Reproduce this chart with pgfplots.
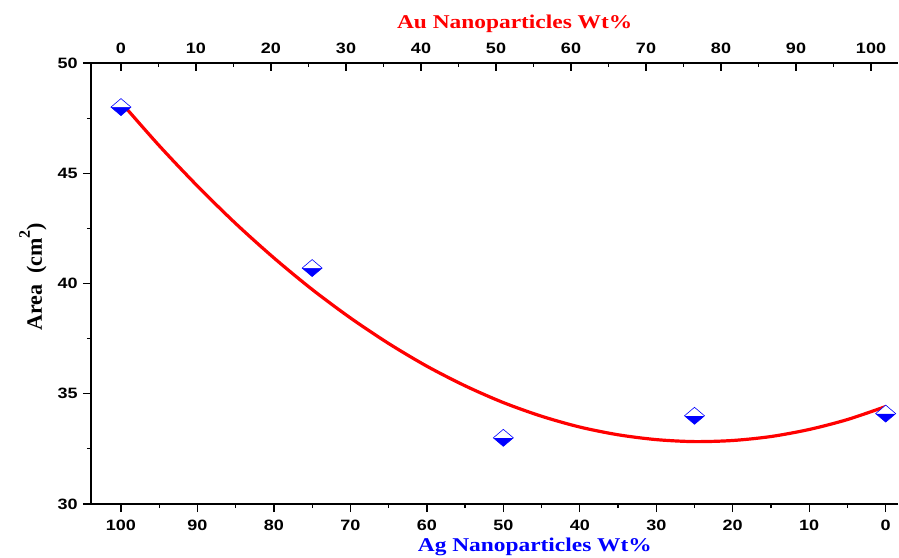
\documentclass[border=0pt]{standalone}
\usepackage{pgfplots}
\pgfplotsset{compat=1.18}
\usepackage{fontspec}
\setmainfont{Liberation Serif}
\newfontfamily\arial{Liberation Sans}

\pgfplotstableread{
x y
100 48.0
75 40.7
50 33.0
25 34.0
0 34.1
}\measured

\pgfplotstableread{
x y
100 48.22
95 46.25
90 44.42
85 42.72
80 41.16
75 39.73
70 38.44
65 37.28
60 36.25
55 35.36
50 34.60
45 33.98
40 33.49
35 33.14
30 32.92
25 32.83
20 32.88
15 33.06
10 33.38
5 33.83
0 34.42
}\fitted

\begin{document}
\begin{tikzpicture}
\pgfplotsset{
  every axis/.append style={
    scale only axis, width=807pt, height=441pt,
    axis line style={line width=1.6pt},
    major tick style={line width=1.4pt, black},
    minor tick style={line width=1.2pt, black},
    tick label style={font=\arial\bfseries\fontsize{15}{17}\selectfont, xscale=1.2},
    /pgf/number format/assume math mode=true,
    ymin=30, ymax=50,
  }
}
\begin{axis}[
    name=ax,
    x dir=reverse,
    xmin=-1.61, xmax=103.92,
    axis x line*=bottom, axis y line*=left,
    axis line style={-},
    xtick={0,10,...,100}, minor x tick num=1,
    ytick={30,35,...,50}, minor y tick num=1,
    tick align=outside,
    major tick length=8pt, minor tick length=4pt,
    xticklabel style={yshift=-4pt},
    yticklabel style={xshift=-1pt},
    xlabel={\textbf{Ag Nanoparticles Wt\%}},
    xlabel style={font=\fontsize{19.5}{22}\selectfont, text=blue, xscale=1.2,
      at={(axis description cs:0.55,0)}, anchor=base, yshift=-47pt},
    ylabel={\textbf{Area\ \ (cm\raisebox{0.55em}{\fontsize{16}{16}\selectfont 2})}},
    ylabel style={font=\fontsize{22}{24}\selectfont, text=black,
      at={(axis description cs:-0.072,0.515)}, anchor=center},
]
\addplot[red, line width=3.2pt, smooth] table[x=x, y=y] {\fitted};
\addplot[only marks, mark=halfdiamond*, mark size=8.5pt,
  mark options={xscale=1.57, draw=blue, fill=blue, mark color=white, line width=0.6pt}]
  table[x=x, y=y] {\measured};
\end{axis}
\begin{axis}[
    xmin=-4, xmax=103.6,
    axis x line*=top, axis y line=none,
    axis line style={-},
    xtick={0,10,...,100}, minor x tick num=1,
    tick align=inside,
    major tick length=8pt, minor tick length=4pt,
    xticklabel style={yshift=6pt},
    xlabel={\textbf{Au Nanoparticles Wt\%}},
    xlabel style={font=\fontsize{19.5}{22}\selectfont, text=red, xscale=1.2,
      at={(axis description cs:0.525,1)}, anchor=base, yshift=34pt},
]
\end{axis}
\pgfresetboundingbox
\path[use as bounding box] ([shift={(-91pt,-53pt)}]ax.south west) rectangle ([shift={(1pt,63pt)}]ax.north east);
\end{tikzpicture}
\end{document}
